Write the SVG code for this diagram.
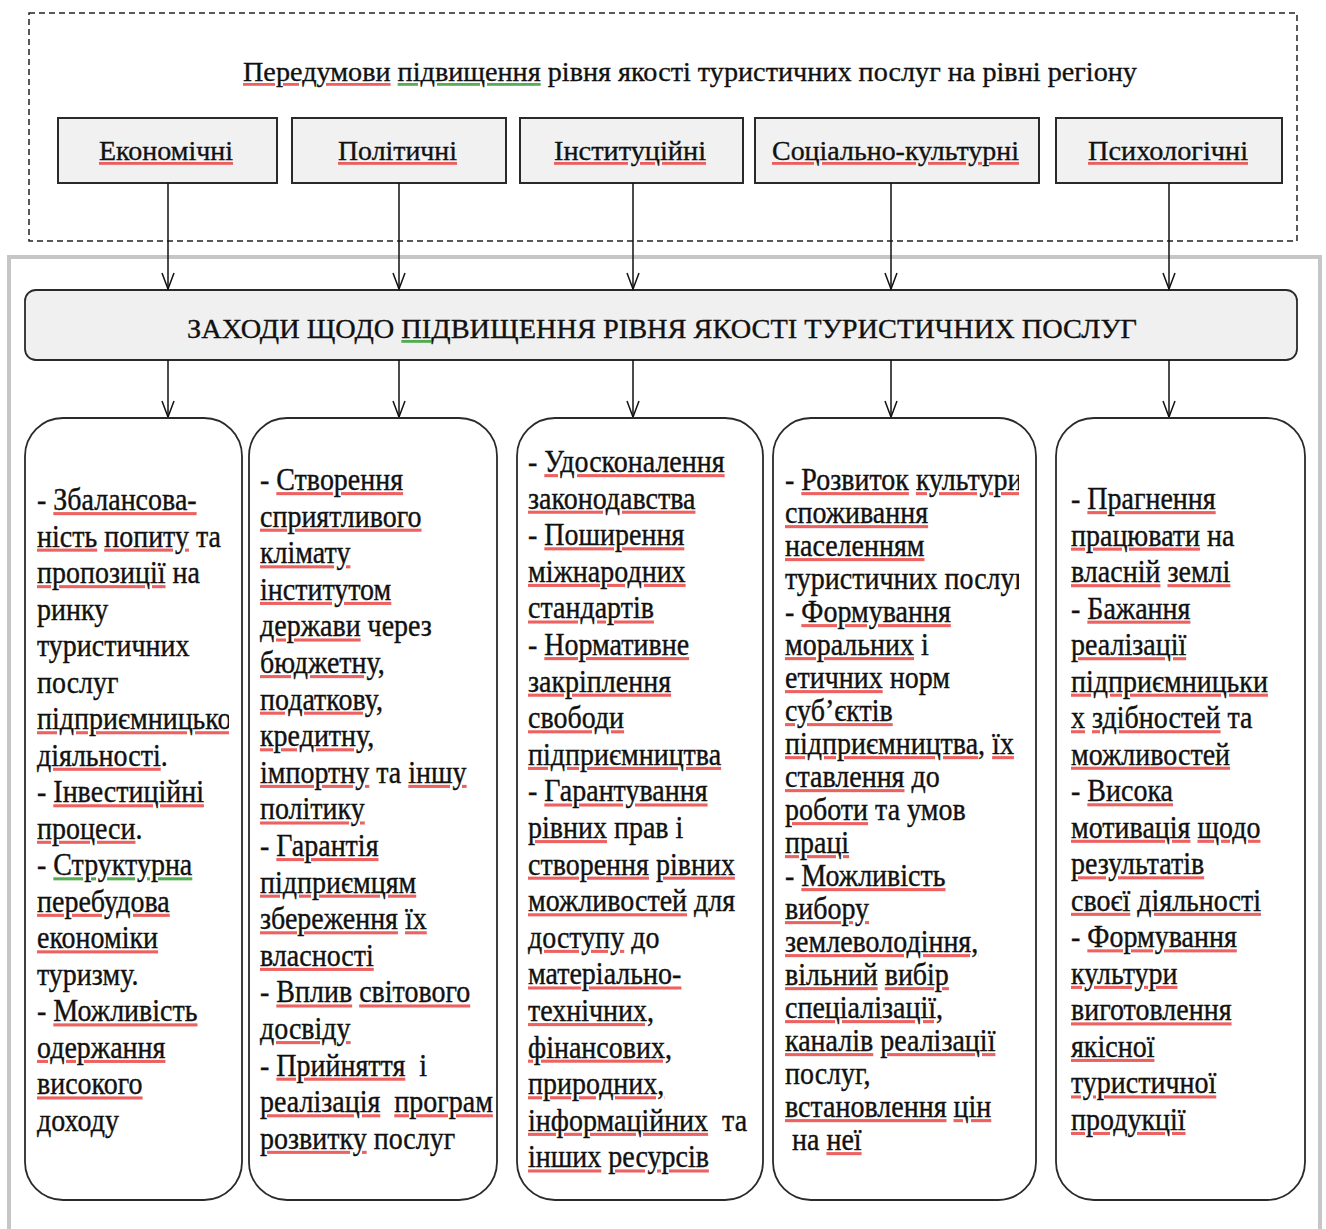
<svg xmlns="http://www.w3.org/2000/svg" width="1326" height="1229" viewBox="0 0 1326 1229">
<style>
text{font-family:"Liberation Serif","Times New Roman",serif;font-size:28px;fill:#111;stroke:#111;stroke-width:0.35;white-space:pre}
.r{fill:#e83a3a;fill-opacity:0.8;stroke:none;text-decoration:underline}
.g{fill:#2a9a2a;fill-opacity:0.8;stroke:none;text-decoration:underline}
.r tspan,.g tspan{fill:#111;fill-opacity:1;stroke:#111;stroke-width:0.35}
.frame{fill:none;stroke:#222;stroke-width:1.5;stroke-dasharray:6 4}
.outer{fill:none;stroke:#c6c6c6;stroke-width:4}
.cat{fill:#f1f1f1;stroke:#2a2a2a;stroke-width:2}
.main{fill:#f0f0f0;stroke:#2a2a2a;stroke-width:1.8}
.box{fill:#fff;stroke:#2a2a2a;stroke-width:1.8}
.conn{stroke:#111;stroke-width:1.5;fill:none}
</style>
<defs>
<marker id="arr" viewBox="-18 -8 20 16" refX="0" refY="0" markerWidth="20" markerHeight="16" markerUnits="userSpaceOnUse" orient="auto">
<path d="M-16,-6 L0,0 L-16,6" fill="none" stroke="#111" stroke-width="1.5"/>
</marker>
<clipPath id="c1"><rect x="25" y="418" width="204" height="782"/></clipPath>
<clipPath id="c2"><rect x="249" y="418" width="245" height="782"/></clipPath>
<clipPath id="c3"><rect x="517" y="418" width="236" height="782"/></clipPath>
<clipPath id="c4"><rect x="773" y="418" width="246" height="782"/></clipPath>
<clipPath id="c5"><rect x="1056" y="418" width="238" height="782"/></clipPath>
</defs>

<rect class="frame" x="29" y="13" width="1268" height="228"/>
<rect class="outer" x="9" y="257" width="1311" height="1000"/>

<g id="title">
<text x="243" y="81" textLength="894" lengthAdjust="spacingAndGlyphs"><tspan class="r"><tspan>Передумови</tspan></tspan> <tspan class="g"><tspan>підвищення</tspan></tspan> рівня якості туристичних послуг на рівні регіону</text>
</g>

<g id="n-economic">
<rect class="cat" x="58" y="118" width="219" height="65"/>
<text x="99" y="160" textLength="134" lengthAdjust="spacingAndGlyphs"><tspan class="r"><tspan>Економічні</tspan></tspan></text>
</g>
<g id="n-political">
<rect class="cat" x="292" y="118" width="214" height="65"/>
<text x="338" y="160" textLength="119" lengthAdjust="spacingAndGlyphs"><tspan class="r"><tspan>Політичні</tspan></tspan></text>
</g>
<g id="n-institutional">
<rect class="cat" x="520" y="118" width="223" height="65"/>
<text x="554" y="160" textLength="152" lengthAdjust="spacingAndGlyphs"><tspan class="r"><tspan>Інституційні</tspan></tspan></text>
</g>
<g id="n-sociocultural">
<rect class="cat" x="755" y="118" width="284" height="65"/>
<text x="772" y="160" textLength="247" lengthAdjust="spacingAndGlyphs"><tspan class="r"><tspan>Соціально-культурні</tspan></tspan></text>
</g>
<g id="n-psychological">
<rect class="cat" x="1056" y="118" width="226" height="65"/>
<text x="1088" y="160" textLength="160" lengthAdjust="spacingAndGlyphs"><tspan class="r"><tspan>Психологічні</tspan></tspan></text>
</g>

<g id="n-measures">
<rect class="main" x="25" y="290" width="1272" height="70" rx="11"/>
<text x="187" y="338" textLength="950" lengthAdjust="spacingAndGlyphs">ЗАХОДИ ЩОДО <tspan class="g"><tspan>ПІ</tspan></tspan>ДВИЩЕННЯ РІВНЯ ЯКОСТІ ТУРИСТИЧНИХ ПОСЛУГ</text>
</g>

<g id="connectors">
<line class="conn" x1="168" y1="183" x2="168" y2="289" marker-end="url(#arr)"/>
<line class="conn" x1="399" y1="183" x2="399" y2="289" marker-end="url(#arr)"/>
<line class="conn" x1="633" y1="183" x2="633" y2="289" marker-end="url(#arr)"/>
<line class="conn" x1="891" y1="183" x2="891" y2="289" marker-end="url(#arr)"/>
<line class="conn" x1="1169" y1="183" x2="1169" y2="289" marker-end="url(#arr)"/>
<line class="conn" x1="168" y1="360" x2="168" y2="417" marker-end="url(#arr)"/>
<line class="conn" x1="399" y1="360" x2="399" y2="417" marker-end="url(#arr)"/>
<line class="conn" x1="633" y1="360" x2="633" y2="417" marker-end="url(#arr)"/>
<line class="conn" x1="891" y1="360" x2="891" y2="417" marker-end="url(#arr)"/>
<line class="conn" x1="1169" y1="360" x2="1169" y2="417" marker-end="url(#arr)"/>
</g>

<g id="n-box1">
<rect class="box" x="25" y="418" width="217" height="782" rx="38"/>
<g clip-path="url(#c1)"><text transform="translate(37,510) scale(1,1.1)"><tspan x="0" y="0">- <tspan class="r"><tspan>Збалансова-</tspan></tspan></tspan><tspan x="0" dy="33.2"><tspan class="r"><tspan>ність</tspan></tspan> <tspan class="r"><tspan>попиту</tspan></tspan> та</tspan><tspan x="0" dy="33.2"><tspan class="r"><tspan>пропозиції</tspan></tspan> на</tspan><tspan x="0" dy="33.2">ринку</tspan><tspan x="0" dy="33.2">туристичних</tspan><tspan x="0" dy="33.2">послуг</tspan><tspan x="0" dy="33.2" class="r"><tspan>підприємницької</tspan></tspan><tspan x="0" dy="33.2"><tspan class="r"><tspan>діяльності</tspan></tspan>.</tspan><tspan x="0" dy="33.2">- <tspan class="r"><tspan>Інвестиційні</tspan></tspan></tspan><tspan x="0" dy="33.2"><tspan class="r"><tspan>процеси</tspan></tspan>.</tspan><tspan x="0" dy="33.2">- <tspan class="g"><tspan>Структурна</tspan></tspan></tspan><tspan x="0" dy="33.2" class="r"><tspan>перебудова</tspan></tspan><tspan x="0" dy="33.2" class="r"><tspan>економіки</tspan></tspan><tspan x="0" dy="33.2">туризму.</tspan><tspan x="0" dy="33.2">- <tspan class="r"><tspan>Можливість</tspan></tspan></tspan><tspan x="0" dy="33.2" class="r"><tspan>одержання</tspan></tspan><tspan x="0" dy="33.2" class="r"><tspan>високого</tspan></tspan><tspan x="0" dy="33.2">доходу</tspan></text></g>
</g>

<g id="n-box2">
<rect class="box" x="249" y="418" width="248" height="782" rx="38"/>
<g clip-path="url(#c2)"><text transform="translate(260,490) scale(1,1.1)"><tspan x="0" y="0">- <tspan class="r"><tspan>Створення</tspan></tspan></tspan><tspan x="0" dy="33.27" class="r"><tspan>сприятливого</tspan></tspan><tspan x="0" dy="33.27" class="r"><tspan>клімату</tspan></tspan><tspan x="0" dy="33.27" class="r"><tspan>інститутом</tspan></tspan><tspan x="0" dy="33.27"><tspan class="r"><tspan>держави</tspan></tspan> через</tspan><tspan x="0" dy="33.27" class="r"><tspan>бюджетну,</tspan></tspan><tspan x="0" dy="33.27" class="r"><tspan>податкову,</tspan></tspan><tspan x="0" dy="33.27" class="r"><tspan>кредитну,</tspan></tspan><tspan x="0" dy="33.27"><tspan class="r"><tspan>імпортну</tspan></tspan> та <tspan class="r"><tspan>іншу</tspan></tspan></tspan><tspan x="0" dy="33.27" class="r"><tspan>політику</tspan></tspan><tspan x="0" dy="33.27">- <tspan class="r"><tspan>Гарантія</tspan></tspan></tspan><tspan x="0" dy="33.27" class="r"><tspan>підприємцям</tspan></tspan><tspan x="0" dy="33.27"><tspan class="r"><tspan>збереження</tspan></tspan> <tspan class="r"><tspan>їх</tspan></tspan></tspan><tspan x="0" dy="33.27" class="r"><tspan>власності</tspan></tspan><tspan x="0" dy="33.27">- <tspan class="r"><tspan>Вплив</tspan></tspan> <tspan class="r"><tspan>світового</tspan></tspan></tspan><tspan x="0" dy="33.27" class="r"><tspan>досвіду</tspan></tspan><tspan x="0" dy="33.27">- <tspan class="r"><tspan>Прийняття</tspan></tspan>  і</tspan><tspan x="0" dy="33.27"><tspan class="r"><tspan>реалізація</tspan></tspan>  <tspan class="r"><tspan>програм</tspan></tspan></tspan><tspan x="0" dy="33.27"><tspan class="r"><tspan>розвитку</tspan></tspan> послуг</tspan></text></g>
</g>

<g id="n-box3">
<rect class="box" x="517" y="418" width="246" height="782" rx="38"/>
<g clip-path="url(#c3)"><text transform="translate(528,472) scale(1,1.1)"><tspan x="0" y="0">- <tspan class="r"><tspan>Удосконалення</tspan></tspan></tspan><tspan x="0" dy="33.27" class="r"><tspan>законодавства</tspan></tspan><tspan x="0" dy="33.27">- <tspan class="r"><tspan>Поширення</tspan></tspan></tspan><tspan x="0" dy="33.27" class="r"><tspan>міжнародних</tspan></tspan><tspan x="0" dy="33.27" class="r"><tspan>стандартів</tspan></tspan><tspan x="0" dy="33.27">- <tspan class="r"><tspan>Нормативне</tspan></tspan></tspan><tspan x="0" dy="33.27" class="r"><tspan>закріплення</tspan></tspan><tspan x="0" dy="33.27" class="r"><tspan>свободи</tspan></tspan><tspan x="0" dy="33.27" class="r"><tspan>підприємництва</tspan></tspan><tspan x="0" dy="33.27">- <tspan class="r"><tspan>Гарантування</tspan></tspan></tspan><tspan x="0" dy="33.27"><tspan class="r"><tspan>рівних</tspan></tspan> прав і</tspan><tspan x="0" dy="33.27"><tspan class="r"><tspan>створення</tspan></tspan> <tspan class="r"><tspan>рівних</tspan></tspan></tspan><tspan x="0" dy="33.27"><tspan class="r"><tspan>можливостей</tspan></tspan> для</tspan><tspan x="0" dy="33.27"><tspan class="r"><tspan>доступу</tspan></tspan> до</tspan><tspan x="0" dy="33.27" class="r"><tspan>матеріально-</tspan></tspan><tspan x="0" dy="33.27" class="r"><tspan>технічних,</tspan></tspan><tspan x="0" dy="33.27" class="r"><tspan>фінансових,</tspan></tspan><tspan x="0" dy="33.27" class="r"><tspan>природних,</tspan></tspan><tspan x="0" dy="33.27"><tspan class="r"><tspan>інформаційних</tspan></tspan>  та</tspan><tspan x="0" dy="33.27"><tspan class="r"><tspan>інших</tspan></tspan> <tspan class="r"><tspan>ресурсів</tspan></tspan></tspan></text></g>
</g>

<g id="n-box4">
<rect class="box" x="773" y="418" width="263" height="782" rx="38"/>
<g clip-path="url(#c4)"><text transform="translate(785,490) scale(1,1.1)"><tspan x="0" y="0">- <tspan class="r"><tspan>Розвиток</tspan></tspan> <tspan class="r"><tspan>культури</tspan></tspan></tspan><tspan x="0" dy="30" class="r"><tspan>споживання</tspan></tspan><tspan x="0" dy="30" class="r"><tspan>населенням</tspan></tspan><tspan x="0" dy="30">туристичних послуг</tspan><tspan x="0" dy="30">- <tspan class="r"><tspan>Формування</tspan></tspan></tspan><tspan x="0" dy="30"><tspan class="r"><tspan>моральних</tspan></tspan> і</tspan><tspan x="0" dy="30"><tspan class="r"><tspan>етичних</tspan></tspan> норм</tspan><tspan x="0" dy="30" class="r"><tspan>суб’єктів</tspan></tspan><tspan x="0" dy="30"><tspan class="r"><tspan>підприємництва</tspan></tspan>, <tspan class="r"><tspan>їх</tspan></tspan></tspan><tspan x="0" dy="30"><tspan class="r"><tspan>ставлення</tspan></tspan> до</tspan><tspan x="0" dy="30"><tspan class="r"><tspan>роботи</tspan></tspan> та умов</tspan><tspan x="0" dy="30" class="r"><tspan>праці</tspan></tspan><tspan x="0" dy="30">- <tspan class="r"><tspan>Можливість</tspan></tspan></tspan><tspan x="0" dy="30" class="r"><tspan>вибору</tspan></tspan><tspan x="0" dy="30" class="r"><tspan>землеволодіння,</tspan></tspan><tspan x="0" dy="30"><tspan class="r"><tspan>вільний</tspan></tspan> <tspan class="r"><tspan>вибір</tspan></tspan></tspan><tspan x="0" dy="30" class="r"><tspan>спеціалізації,</tspan></tspan><tspan x="0" dy="30"><tspan class="r"><tspan>каналів</tspan></tspan> <tspan class="r"><tspan>реалізації</tspan></tspan></tspan><tspan x="0" dy="30">послуг,</tspan><tspan x="0" dy="30"><tspan class="r"><tspan>встановлення</tspan></tspan> <tspan class="r"><tspan>цін</tspan></tspan></tspan><tspan x="0" dy="30"> на <tspan class="r"><tspan>неї</tspan></tspan></tspan></text></g>
</g>

<g id="n-box5">
<rect class="box" x="1056" y="418" width="249" height="782" rx="38"/>
<g clip-path="url(#c5)"><text transform="translate(1071,509) scale(1,1.1)"><tspan x="0" y="0">- <tspan class="r"><tspan>Прагнення</tspan></tspan></tspan><tspan x="0" dy="33.2"><tspan class="r"><tspan>працювати</tspan></tspan> на</tspan><tspan x="0" dy="33.2"><tspan class="r"><tspan>власній</tspan></tspan> <tspan class="r"><tspan>землі</tspan></tspan></tspan><tspan x="0" dy="33.2">- <tspan class="r"><tspan>Бажання</tspan></tspan></tspan><tspan x="0" dy="33.2" class="r"><tspan>реалізації</tspan></tspan><tspan x="0" dy="33.2" class="r"><tspan>підприємницьки</tspan></tspan><tspan x="0" dy="33.2"><tspan class="r"><tspan>х</tspan></tspan> <tspan class="r"><tspan>здібностей</tspan></tspan> та</tspan><tspan x="0" dy="33.2" class="r"><tspan>можливостей</tspan></tspan><tspan x="0" dy="33.2">- <tspan class="r"><tspan>Висока</tspan></tspan></tspan><tspan x="0" dy="33.2"><tspan class="r"><tspan>мотивація</tspan></tspan> <tspan class="r"><tspan>щодо</tspan></tspan></tspan><tspan x="0" dy="33.2" class="r"><tspan>результатів</tspan></tspan><tspan x="0" dy="33.2"><tspan class="r"><tspan>своєї</tspan></tspan> <tspan class="r"><tspan>діяльності</tspan></tspan></tspan><tspan x="0" dy="33.2">- <tspan class="r"><tspan>Формування</tspan></tspan></tspan><tspan x="0" dy="33.2" class="r"><tspan>культури</tspan></tspan><tspan x="0" dy="33.2" class="r"><tspan>виготовлення</tspan></tspan><tspan x="0" dy="33.2" class="r"><tspan>якісної</tspan></tspan><tspan x="0" dy="33.2" class="r"><tspan>туристичної</tspan></tspan><tspan x="0" dy="33.2" class="r"><tspan>продукції</tspan></tspan></text></g>
</g>
</svg>
